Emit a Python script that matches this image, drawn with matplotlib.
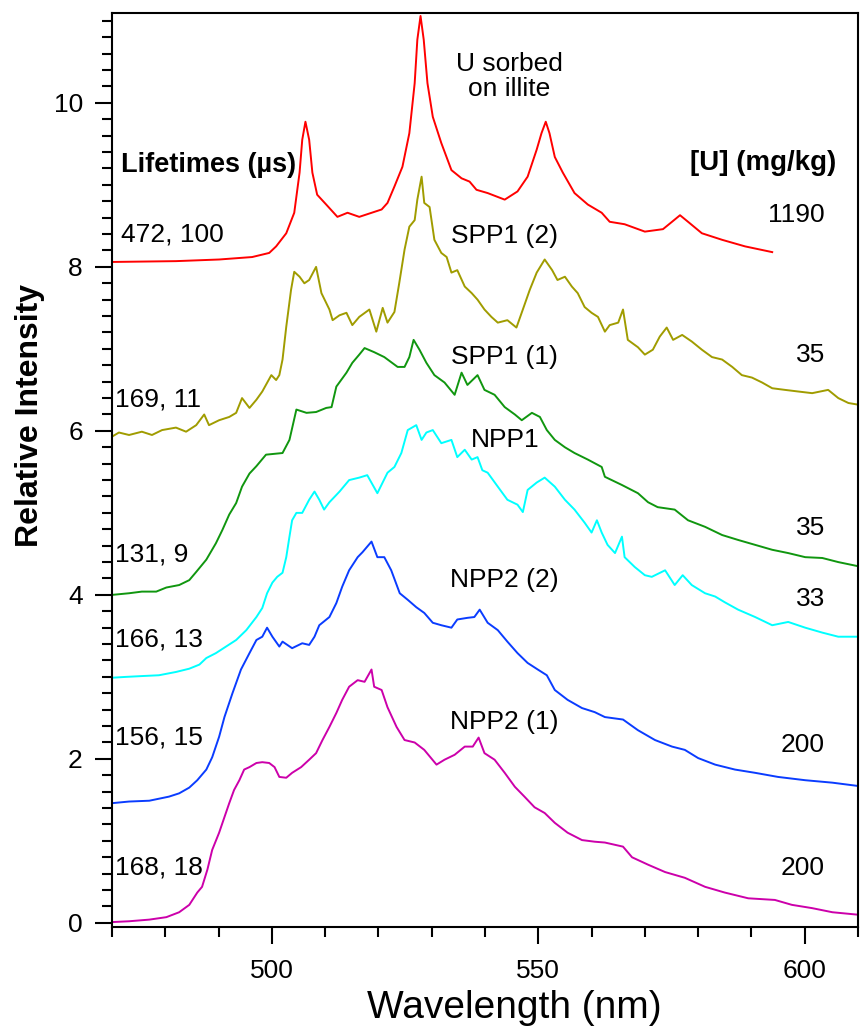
import matplotlib
matplotlib.use("Agg")
from matplotlib import pyplot as plt
from matplotlib.ticker import MultipleLocator

plt.rcParams['font.family'] = ['Liberation Sans', 'DejaVu Sans']

# U sorbed on illite
red_wl = [470, 482, 490.1, 496.3, 499.5, 500.8, 502.7, 504.2, 505.2, 505.7, 506.3, 507.0, 507.6,
          508.5, 510.2, 512.3, 514.2, 516.4, 520.6, 521.7, 523.0, 524.5, 525.8, 526.8, 527.3, 527.9,
          528.5, 529.2, 530.2, 531.8, 533.7, 535.6, 537.1, 538.4, 540.5, 543.7, 546.1, 548.0, 549.7,
          550.6, 551.4, 552.1, 553.1, 554.6, 556.8, 559.3, 561.9, 563.4, 566.2, 570.0, 573.4, 575.1,
          576.6, 578.1, 580.7, 584.5, 588.8, 593.9]
red_int = [8.06, 8.07, 8.09, 8.12, 8.17, 8.25, 8.41, 8.66, 9.15, 9.55, 9.77, 9.55, 9.15,
           8.88, 8.76, 8.61, 8.66, 8.61, 8.70, 8.78, 8.98, 9.22, 9.63, 10.24, 10.77, 11.06,
           10.77, 10.24, 9.83, 9.51, 9.18, 9.08, 9.04, 8.94, 8.90, 8.82, 8.92, 9.10, 9.43,
           9.63, 9.77, 9.63, 9.34, 9.15, 8.90, 8.76, 8.66, 8.55, 8.52, 8.43, 8.46, 8.55,
           8.63, 8.55, 8.41, 8.33, 8.25, 8.18]

# SPP1 (2)
olive_wl = [470, 471.3, 473.2, 475.6, 477.5, 479.4, 482.0, 483.9, 485.8, 487.3, 488.2, 490.1, 492.0,
            493.3, 494.4, 495.8, 497.1, 498.2, 499.9, 500.8, 501.4, 502.0, 502.7, 503.6, 504.2, 505.2,
            506.1, 507.0, 508.3, 509.3, 510.8, 511.4, 512.7, 514.0, 515.1, 516.4, 518.3, 519.6, 520.8,
            521.7, 523.0, 523.9, 524.9, 525.8, 526.8, 527.3, 528.1, 528.6, 529.6, 530.5, 531.8, 532.8,
            533.7, 534.8, 536.2, 537.5, 538.6, 539.9, 541.2, 542.4, 544.2, 545.9, 547.1, 548.4, 549.7,
            551.2, 552.6, 553.6, 555.0, 556.3, 557.4, 558.7, 560.0, 561.2, 562.5, 563.4, 565.0, 565.9,
            566.8, 568.7, 570.0, 571.5, 572.8, 574.1, 575.3, 577.0, 578.8, 580.7, 582.6, 584.5, 586.4,
            588.2, 590.1, 592.0, 593.9, 596.3, 598.8, 601.4, 604.4, 606.3, 608.2, 610.0]
olive_int = [5.93, 5.98, 5.95, 5.99, 5.95, 6.01, 6.04, 5.99, 6.07, 6.20, 6.07, 6.13, 6.17,
             6.22, 6.40, 6.28, 6.38, 6.48, 6.68, 6.62, 6.68, 6.87, 7.27, 7.72, 7.94, 7.88,
             7.80, 7.84, 8.00, 7.68, 7.48, 7.35, 7.41, 7.44, 7.29, 7.39, 7.48, 7.21, 7.50,
             7.32, 7.45, 7.80, 8.21, 8.49, 8.57, 8.82, 9.10, 8.78, 8.73, 8.33, 8.17, 8.12,
             7.93, 7.96, 7.76, 7.68, 7.60, 7.48, 7.39, 7.32, 7.35, 7.26, 7.48, 7.72, 7.93,
             8.09, 7.96, 7.84, 7.88, 7.76, 7.68, 7.51, 7.44, 7.39, 7.21, 7.29, 7.32, 7.48,
             7.11, 7.02, 6.93, 6.99, 7.15, 7.26, 7.11, 7.17, 7.09, 6.99, 6.90, 6.87, 6.78,
             6.68, 6.65, 6.59, 6.52, 6.50, 6.48, 6.46, 6.50, 6.40, 6.34, 6.32]

# SPP1 (1)
green_wl = [470, 473.2, 475.6, 478.3, 480.2, 482.6, 484.5, 485.8, 487.7, 489.5, 490.7, 492.0, 493.3,
            494.4, 495.8, 497.1, 498.9, 502.0, 503.3, 504.6, 506.5, 508.3, 510.2, 511.2, 512.1, 514.0,
            515.1, 516.4, 517.4, 519.2, 521.1, 523.6, 524.9, 525.8, 526.6, 527.7, 529.0, 530.5, 532.4,
            534.3, 535.6, 536.7, 538.6, 539.9, 541.8, 543.7, 545.6, 546.9, 548.8, 550.3, 551.6, 553.1,
            555.0, 556.8, 559.3, 561.9, 562.5, 565.7, 568.7, 570.6, 572.4, 575.6, 578.1, 581.3, 584.5,
            587.5, 590.7, 593.9, 596.9, 600.1, 603.3, 606.3, 610.0]
green_int = [4.00, 4.02, 4.04, 4.04, 4.09, 4.12, 4.18, 4.28, 4.43, 4.63, 4.79, 4.98, 5.12,
             5.32, 5.48, 5.57, 5.71, 5.73, 5.89, 6.26, 6.22, 6.23, 6.28, 6.29, 6.54, 6.71,
             6.83, 6.93, 7.01, 6.96, 6.90, 6.78, 6.78, 6.90, 7.11, 6.99, 6.83, 6.68, 6.59,
             6.44, 6.71, 6.56, 6.68, 6.50, 6.44, 6.29, 6.20, 6.13, 6.22, 6.17, 6.01, 5.89,
             5.80, 5.73, 5.65, 5.56, 5.44, 5.34, 5.24, 5.13, 5.07, 5.04, 4.91, 4.83, 4.73,
             4.67, 4.61, 4.55, 4.51, 4.46, 4.45, 4.40, 4.35]

# NPP1
cyan_wl = [470, 472.6, 475.6, 478.8, 482.0, 484.5, 486.4, 487.7, 489.5, 491.4, 493.3, 495.2, 497.1,
           498.2, 499.1, 500.1, 501.0, 502.0, 502.7, 503.3, 503.8, 504.6, 505.7, 507.0, 508.0, 508.9,
           509.8, 510.8, 512.7, 514.5, 516.4, 517.9, 519.8, 521.7, 523.0, 524.3, 525.5, 527.1, 528.1,
           529.0, 530.2, 531.8, 533.7, 534.8, 536.2, 537.5, 538.6, 539.5, 540.5, 542.4, 544.2, 546.1,
           547.1, 548.0, 549.7, 551.2, 553.1, 555.0, 556.8, 558.7, 560.0, 561.0, 561.9, 563.0, 564.4,
           565.7, 566.2, 568.1, 570.0, 571.3, 573.8, 575.6, 577.1, 578.8, 581.3, 583.2, 585.0, 587.5,
           590.7, 593.9, 596.9, 600.1, 603.3, 606.3, 610.0]
cyan_int = [2.99, 3.00, 3.01, 3.02, 3.06, 3.10, 3.15, 3.23, 3.29, 3.37, 3.45, 3.57, 3.73,
            3.84, 4.02, 4.15, 4.22, 4.27, 4.46, 4.71, 4.91, 5.00, 5.00, 5.16, 5.26, 5.16,
            5.04, 5.13, 5.26, 5.40, 5.43, 5.46, 5.24, 5.49, 5.56, 5.73, 6.01, 6.07, 5.89,
            5.98, 6.01, 5.85, 5.89, 5.68, 5.77, 5.65, 5.68, 5.52, 5.49, 5.32, 5.16, 5.10,
            5.01, 5.28, 5.37, 5.43, 5.32, 5.16, 5.04, 4.88, 4.76, 4.91, 4.76, 4.61, 4.51,
            4.71, 4.46, 4.34, 4.24, 4.22, 4.30, 4.12, 4.24, 4.12, 4.02, 3.98, 3.91, 3.82,
            3.73, 3.63, 3.67, 3.60, 3.54, 3.49, 3.49]

# NPP2 (2)
blue_wl = [470, 473.2, 477.0, 480.7, 482.6, 484.5, 486.0, 487.7, 488.8, 490.1, 491.1, 492.6, 494.2,
           495.8, 497.1, 498.2, 499.1, 500.1, 501.4, 502.0, 503.8, 505.7, 507.0, 508.0, 508.9, 510.8,
           512.1, 513.2, 514.5, 516.1, 517.0, 518.7, 519.8, 521.1, 522.4, 524.0, 525.5, 527.1, 528.6,
           530.2, 531.8, 533.7, 534.8, 536.7, 538.0, 539.0, 540.5, 542.4, 544.2, 546.1, 548.0, 549.9,
           551.6, 553.1, 555.5, 558.2, 560.6, 562.5, 565.9, 568.7, 571.9, 575.1, 577.5, 580.0, 583.2,
           586.9, 590.7, 595.0, 600.1, 605.2, 610.0]
blue_int = [1.46, 1.48, 1.49, 1.54, 1.58, 1.65, 1.74, 1.87, 2.02, 2.27, 2.51, 2.80, 3.09,
            3.29, 3.45, 3.49, 3.60, 3.49, 3.37, 3.43, 3.35, 3.41, 3.39, 3.49, 3.63, 3.73,
            3.90, 4.10, 4.30, 4.46, 4.52, 4.65, 4.46, 4.46, 4.30, 4.02, 3.94, 3.85, 3.78,
            3.66, 3.63, 3.60, 3.70, 3.72, 3.73, 3.82, 3.66, 3.57, 3.43, 3.29, 3.17, 3.09,
            3.02, 2.84, 2.72, 2.62, 2.57, 2.51, 2.48, 2.35, 2.23, 2.15, 2.11, 2.01, 1.93,
            1.87, 1.83, 1.78, 1.74, 1.71, 1.67]

# NPP2 (1)
magenta_wl = [470, 473.2, 477.0, 480.2, 482.6, 484.5, 486.0, 486.9, 487.9, 488.8, 490.1, 491.1, 492.0,
              492.9, 493.9, 494.8, 495.8, 497.1, 498.2, 499.5, 500.5, 501.4, 502.7, 503.8, 505.5, 507.0,
              508.3, 509.5, 510.8, 512.1, 513.2, 514.5, 516.1, 517.4, 518.7, 519.2, 520.6, 521.7, 523.4,
              524.9, 526.8, 528.6, 530.9, 532.4, 534.3, 536.2, 537.7, 538.8, 539.9, 541.8, 543.7, 545.6,
              547.4, 549.3, 551.2, 553.1, 555.5, 558.2, 560.6, 562.5, 565.9, 567.6, 570.6, 573.8, 577.5,
              581.3, 585.0, 589.4, 594.4, 597.6, 601.4, 605.2, 610.0]
magenta_int = [0.01, 0.02, 0.04, 0.07, 0.13, 0.22, 0.37, 0.44, 0.65, 0.89, 1.10, 1.29, 1.46,
               1.62, 1.74, 1.87, 1.90, 1.95, 1.96, 1.95, 1.90, 1.78, 1.77, 1.83, 1.90, 1.99,
               2.07, 2.23, 2.39, 2.56, 2.72, 2.88, 2.96, 2.94, 3.09, 2.88, 2.84, 2.63, 2.39,
               2.23, 2.20, 2.11, 1.93, 1.99, 2.05, 2.15, 2.15, 2.26, 2.07, 1.99, 1.83, 1.66,
               1.54, 1.41, 1.34, 1.22, 1.10, 1.01, 0.99, 0.98, 0.93, 0.80, 0.71, 0.62, 0.55,
               0.44, 0.37, 0.30, 0.28, 0.22, 0.18, 0.13, 0.10]

series = [
    (red_wl, red_int, '#ff0000'),
    (olive_wl, olive_int, '#a09c00'),
    (green_wl, green_int, '#10960f'),
    (cyan_wl, cyan_int, '#00ffff'),
    (blue_wl, blue_int, '#0a3cff'),
    (magenta_wl, magenta_int, '#cc00aa'),
]

sample_names = ['U sorbed\non illite', 'SPP1 (2)', 'SPP1 (1)', 'NPP1', 'NPP2 (2)', 'NPP2 (1)']
name_y = [10.32, 8.38, 6.90, 5.89, 4.18, 2.45]
lifetimes = ['472, 100', '169, 11', '131, 9', '166, 13', '156, 15', '168, 18']
lifetime_y = [8.39, 6.38, 4.49, 3.45, 2.26, 0.67]
conc = ['1190', '35', '35', '33', '200', '200']
conc_y = [8.63, 6.93, 4.82, 3.95, 2.17, 0.67]

fig = plt.figure(figsize=(8.65, 10.3), dpi=100)
ax = fig.add_axes([0.1295, 0.1, 0.8624, 0.8877])

for wl, inten, col in series:
    ax.plot(wl, inten, color=col, lw=1.4)

ax.set_xlim(470, 610)
ax.set_ylim(-0.05, 11.1)
ax.xaxis.set_major_locator(MultipleLocator(50))
ax.xaxis.set_minor_locator(MultipleLocator(10))
ax.yaxis.set_major_locator(MultipleLocator(2))
ax.yaxis.set_minor_locator(MultipleLocator(0.2))
ax.tick_params(which='major', direction='out', length=12, width=1.5, labelsize=19, pad=9)
ax.tick_params(which='minor', direction='out', length=7, width=1.5)
ax.tick_params(axis='x', which='major', pad=11)
for s in ax.spines.values():
    s.set_linewidth(1.5)

ax.set_xlabel('Wavelength (nm)', fontsize=28, va='center')
ax.xaxis.set_label_coords(0.539, -0.089)
ax.set_ylabel('Relative Intensity', fontsize=23, fontweight='bold', va='center')
ax.yaxis.set_label_coords(-0.11, 0.559)

# sample names, lifetimes and concentrations
for name, y in zip(sample_names, name_y):
    ax.text(544.6 if '\n' in name else 543.7, y, name, fontsize=19, ha='center', va='center',
            linespacing=1.05)
for lt, y in zip(lifetimes, lifetime_y):
    ax.text(471.7 if lt == '472, 100' else 470.6, y, lt, fontsize=19, ha='left', va='center')
for c, y in zip(conc, conc_y):
    ax.text(603.8, y, c, fontsize=19, ha='right', va='center')

ax.text(471.7, 9.24, 'Lifetimes (\u00b5s)', fontsize=19.5, fontweight='bold', ha='left', va='center')
ax.text(605.9, 9.27, '[U] (mg/kg)', fontsize=20, fontweight='bold', ha='right', va='center')

fig.savefig('out.png', dpi=100)
